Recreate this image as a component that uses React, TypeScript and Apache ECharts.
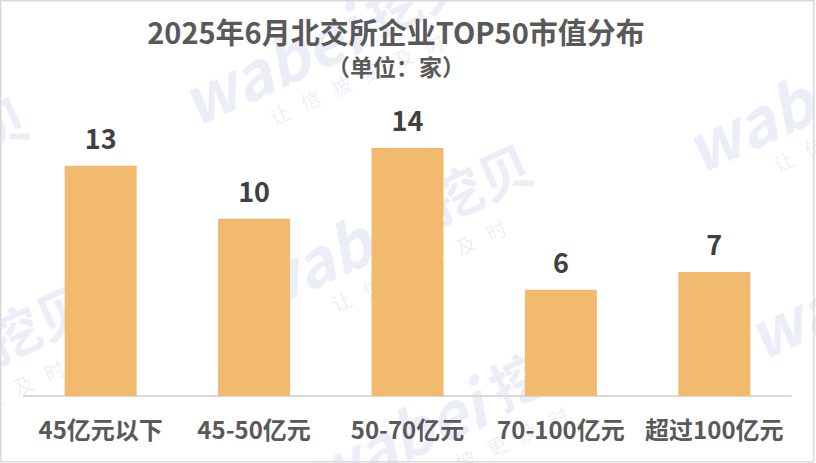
import React, { useEffect, useRef } from "react";
import * as echarts from "echarts";

const categories = ["45亿元以下", "45-50亿元", "50-70亿元", "70-100亿元", "超过100亿元"];
const counts = [13, 10, 14, 6, 7];
const titleText = "2025年6月北交所企业TOP50市值分布";
const subtitleText = "（单位：家）";
const watermarkLatin = "wabei";
const watermarkCjk = "挖贝";
const watermarkSub = ["让", "信", "披", "更", "及", "时"];
const watermarkCenters: [number, number][] = [
  [336, 33],
  [398, 220],
  [460, 407],
  [840, 80],
  [902, 267],
  [-106, 173],
  [-44, 360],
];

const FONT = '"Noto Sans CJK SC", "Noto Sans", sans-serif';
const WM_COLOR = "rgba(110,120,190,0.13)";

function watermark(cx: number, cy: number) {
  const children: any[] = [
    {
      type: "text",
      x: 22,
      y: 0,
      style: {
        text: watermarkLatin,
        fontSize: 64,
        fontWeight: "bold",
        fontStyle: "italic",
        fontFamily: FONT,
        fill: WM_COLOR,
        align: "right",
        verticalAlign: "middle",
      },
    },
    {
      type: "text",
      x: 36,
      y: -2,
      style: {
        text: watermarkCjk,
        fontSize: 54,
        fontWeight: "bold",
        fontFamily: FONT,
        fill: WM_COLOR,
        align: "left",
        verticalAlign: "middle",
      },
    },
  ];
  watermarkSub.forEach((ch, i) => {
    children.push({
      type: "text",
      x: (i - 2.5) * 34,
      y: 50,
      style: {
        text: ch,
        fontSize: 20,
        fontFamily: FONT,
        fill: WM_COLOR,
        align: "center",
        verticalAlign: "middle",
      },
    });
  });
  return {
    type: "group",
    x: cx,
    y: cy,
    rotation: 0.428,
    silent: true,
    z: 100,
    children,
  };
}

export default function App() {
  const ref = useRef<HTMLDivElement>(null);
  useEffect(() => {
    if (!ref.current) return;
    const chart = echarts.init(ref.current, null, { renderer: "svg" });
    chart.setOption({
      animation: false,
      backgroundColor: "#ffffff",
      grid: { left: 24, right: 25, top: 148, bottom: 67 },
      xAxis: {
        type: "category",
        data: categories,
        axisTick: { show: false },
        axisLine: { lineStyle: { color: "#D9D9D9", width: 2 } },
        axisLabel: {
          fontSize: 24,
          fontWeight: "bold",
          color: "#595959",
          fontFamily: FONT,
          margin: 20,
          interval: 0,
        },
      },
      yAxis: {
        type: "value",
        min: 0,
        max: 14,
        show: false,
        splitLine: { show: false },
      },
      series: [
        {
          type: "bar",
          data: counts,
          barWidth: 72,
          itemStyle: { color: "#F1BA6F" },
          label: {
            show: true,
            position: "top",
            distance: 15,
            fontSize: 27,
            fontWeight: "bold",
            color: "#404040",
            fontFamily: FONT,
          },
        },
      ],
      graphic: [
        {
          type: "text",
          x: 396,
          y: 31,
          z: 50,
          style: {
            text: titleText,
            fontSize: 29,
            fontWeight: "bold",
            fontFamily: FONT,
            fill: "#595959",
            align: "center",
            verticalAlign: "middle",
          },
        },
        {
          type: "text",
          x: 396,
          y: 66,
          z: 50,
          style: {
            text: subtitleText,
            fontSize: 23,
            fontWeight: "bold",
            fontFamily: FONT,
            fill: "#595959",
            align: "center",
            verticalAlign: "middle",
          },
        },
        ...watermarkCenters.map(([x, y]) => watermark(x, y)),
        {
          type: "rect",
          silent: true,
          z: 101,
          shape: { x: 0.75, y: 0.75, width: 813, height: 461 },
          style: { fill: "none", stroke: "#D9D9D9", lineWidth: 1.5 },
        },
      ],
    });
    return () => chart.dispose();
  }, []);
  return (
    <div
      ref={ref}
      style={{ position: "absolute", left: 0, top: 0, width: 816, height: 463 }}
    />
  );
}
